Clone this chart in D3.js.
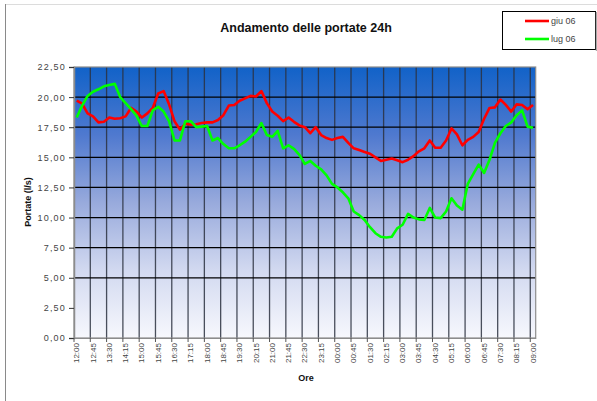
<!DOCTYPE html>
<html><head><meta charset="utf-8">
<script src="https://cdn.jsdelivr.net/npm/d3@7"></script>
<style>body{margin:0;background:#fff}svg{display:block}text{font-family:"Liberation Sans",Arial,sans-serif}</style>
</head><body><svg id="c" width="597" height="401"></svg>
<script>
const categories = ["12:00","12:15","12:30","12:45","13:00","13:15","13:30","13:45","14:00","14:15","14:30","14:45",
"15:00","15:15","15:30","15:45","16:00","16:15","16:30","16:45","17:00","17:15","17:30","17:45",
"18:00","18:15","18:30","18:45","19:00","19:15","19:30","19:45","20:00","20:15","20:30","20:45",
"21:00","21:15","21:30","21:45","22:00","22:15","22:30","22:45","23:00","23:15","23:30","23:45",
"00:00","00:15","00:30","00:45","01:00","01:15","01:30","01:45","02:00","02:15","02:30","02:45",
"03:00","03:15","03:30","03:45","04:00","04:15","04:30","04:45","05:00","05:15","05:30","05:45",
"06:00","06:15","06:30","06:45","07:00","07:15","07:30","07:45","08:00","08:15","08:30","08:45","09:00"];
const giu06 = [19.7,19.45,18.65,18.4,17.9,17.95,18.3,18.2,18.25,18.4,19.1,18.8,
18.3,18.65,19.1,20.3,20.5,19.4,18.0,17.3,17.8,17.7,17.75,17.85,
17.9,17.9,18.1,18.5,19.3,19.35,19.7,19.9,20.1,20.05,20.5,19.5,
18.8,18.45,18.0,18.3,17.95,17.65,17.5,17.0,17.5,16.85,16.6,16.45,
16.6,16.7,16.2,15.75,15.6,15.45,15.3,15.0,14.7,14.8,14.9,14.75,
14.6,14.8,15.1,15.5,15.75,16.4,15.8,15.8,16.4,17.4,16.9,16.0,
16.45,16.7,17.1,18.2,19.1,19.15,19.8,19.35,18.8,19.4,19.35,19.0,19.35];
const lug06 = [18.3,19.3,20.1,20.45,20.65,20.9,21.0,21.1,20.0,19.5,19.0,18.45,
17.6,17.6,18.9,19.2,18.8,18.0,16.4,16.4,18.0,18.0,17.5,17.55,
17.6,16.4,16.6,16.1,15.75,15.75,16.0,16.3,16.7,17.1,17.85,16.85,
16.7,17.2,15.75,16.0,15.7,15.2,14.45,14.7,14.3,14.0,13.5,12.8,
12.5,12.1,11.6,10.5,10.2,9.8,9.2,8.7,8.4,8.35,8.4,9.1,
9.4,10.3,10.0,9.85,9.8,10.8,10.0,9.95,10.5,11.6,11.0,10.65,
12.8,13.6,14.4,13.7,14.8,16.2,17.0,17.6,17.9,18.5,18.9,17.55,17.45];
const seriesNames = ["giu 06","lug 06"];
const seriesColors = ["#ff0000","#00ff00"];
const yTicks = [0,2.5,5,7.5,10,12.5,15,17.5,20,22.5];
const yGrid = [5,7.5,10,12.5,15,17.5,20];
const xTickLabels = categories.filter((d,i)=>i%3===0);

const svg = d3.select("#c");
const L=74, R=535.7, T=67, B=338;
const x = d3.scaleBand().domain(categories).range([L,R]).padding(0);
const y = d3.scaleLinear().domain([0,22.5]).range([B,T]);
const bw = x.bandwidth();

// chart border
svg.append("line").attr("x1",5).attr("x2",597).attr("y1",4.5).attr("y2",4.5).attr("stroke","#dcdcdc");
svg.append("line").attr("x1",5.5).attr("x2",5.5).attr("y1",4).attr("y2",401).attr("stroke","#8a8a8a");

// gradient
const defs = svg.append("defs");
const g = defs.append("linearGradient").attr("id","bg").attr("x1",0).attr("x2",0).attr("y1",0).attr("y2",1);
[[0,"#1162c8"],[0.25,"#4f79cf"],[0.5,"#98aadc"],[0.75,"#d2d9f0"],[1,"#f7f8fd"]].forEach(s=>g.append("stop").attr("offset",s[0]).attr("stop-color",s[1]));
svg.append("rect").attr("x",L).attr("y",T).attr("width",R-L).attr("height",B-T).attr("fill","url(#bg)");

// vertical gridlines
const vIdx = categories.map((d,i)=>i).filter(i=>i%3===0 && i>0);
svg.append("g").selectAll("line").data(vIdx).join("line")
  .attr("x1",i=>x(categories[i])).attr("x2",i=>x(categories[i]))
  .attr("y1",T).attr("y2",B).attr("stroke","#2c3140").attr("stroke-width",1.3).attr("stroke-opacity",0.85);
// horizontal gridlines
svg.append("g").selectAll("line").data(yGrid).join("line")
  .attr("x1",L).attr("x2",R).attr("y1",d=>y(d)).attr("y2",d=>y(d)).attr("stroke","#000").attr("stroke-width",1.2);

// plot border
svg.append("rect").attr("x",L).attr("y",T).attr("width",R-L).attr("height",B-T).attr("fill","none").attr("stroke","#8c8c8c").attr("stroke-width",1.2);

// y axis
const yAxis = d3.axisLeft(y).tickValues(yTicks).tickSize(5).tickPadding(3).tickFormat(d=>d3.format(".2f")(d).replace(".",","));
const ya = svg.append("g").attr("transform",`translate(${L},0)`).call(yAxis);
ya.select(".domain").attr("stroke","#8c8c8c").attr("stroke-width",1.5);
ya.selectAll(".tick line").attr("stroke","#333");
ya.selectAll("text").attr("font-size",9).attr("letter-spacing",1.2).attr("fill","#444").attr("font-family","Liberation Sans, Arial, sans-serif");

// x axis
const xAxis = d3.axisBottom(x).tickValues(xTickLabels).tickSize(0).tickPadding(0);
const xa = svg.append("g").attr("transform",`translate(0,${B})`).call(xAxis);
xa.select(".domain").attr("stroke","#8c8c8c").attr("stroke-width",1.2);
xa.selectAll(".tick text").attr("font-size",8).attr("fill","#444").attr("font-family","Liberation Sans, Arial, sans-serif")
  .attr("transform","rotate(-90)").attr("text-anchor","end").attr("dy","0.32em").attr("x",-5).attr("y",0);
// x tick marks at gridline positions
svg.append("g").selectAll("line").data(categories.map((d,i)=>i).filter(i=>i%3===0)).join("line")
  .attr("x1",i=>x(categories[i])).attr("x2",i=>x(categories[i])).attr("y1",B).attr("y2",B+4).attr("stroke","#555");

// lines
const line = d3.line().x((d,i)=>x(categories[i])+bw/2).y(d=>y(d));
[giu06,lug06].forEach((s,k)=>{
  svg.append("path").datum(s).attr("d",line).attr("fill","none").attr("stroke",seriesColors[k]).attr("stroke-width",2.6).attr("stroke-linejoin","round");
});

// titles
svg.append("text").attr("x",306).attr("y",31.5).attr("text-anchor","middle").attr("font-size",12.5).attr("font-weight","bold").attr("fill","#111").text("Andamento delle portate 24h");
svg.append("text").attr("transform","translate(31,202) rotate(-90)").attr("text-anchor","middle").attr("font-size",9).attr("font-weight","bold").attr("fill","#111").text("Portate (l/s)");
svg.append("text").attr("x",306).attr("y",381).attr("text-anchor","middle").attr("font-size",9).attr("font-weight","bold").attr("fill","#111").text("Ore");

// legend
const lg = svg.append("g");
lg.append("rect").attr("x",502.5).attr("y",11.5).attr("width",93).attr("height",38).attr("fill","#fff").attr("stroke","#000");
lg.append("line").attr("x1",596.5).attr("x2",596.5).attr("y1",12).attr("y2",51).attr("stroke","#aaa").attr("stroke-width",1.5);
seriesNames.forEach((n,k)=>{
  const yy = 21 + k*18;
  lg.append("line").attr("x1",525).attr("x2",549).attr("y1",yy).attr("y2",yy).attr("stroke",seriesColors[k]).attr("stroke-width",2.6);
  lg.append("text").attr("x",551).attr("y",yy+3).attr("font-size",9).attr("fill","#444").text(n);
});
</script></body></html>
